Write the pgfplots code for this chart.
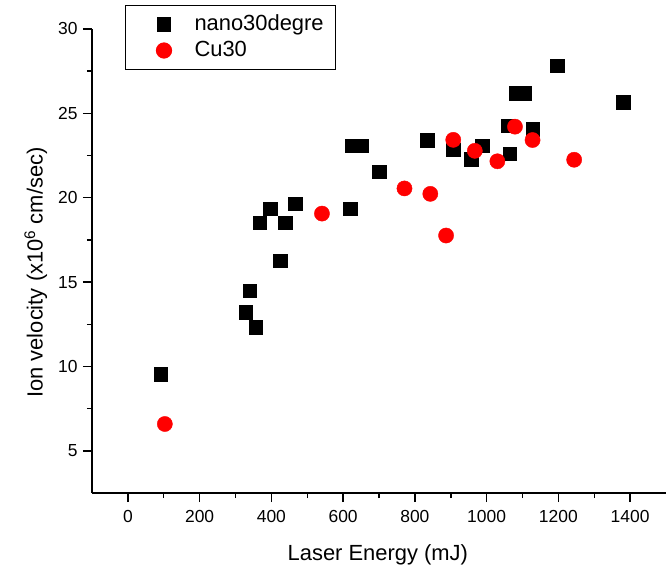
\documentclass[border=0pt]{standalone}
\usepackage{pgfplots}
\pgfplotsset{compat=1.18}
\usepackage{fontspec}
\setmainfont{Liberation Sans}
\begin{document}
\begin{tikzpicture}
\begin{axis}[
  name=ax,
  scale only axis,
  width=574bp, height=464bp,
  xmin=-100, xmax=1500, ymin=2.5, ymax=30,
  axis lines=left,
  axis line style={-, line width=1.5bp},
  xtick={0,200,...,1400},
  ytick={5,10,...,30},
  minor x tick num=1,
  minor y tick num=1,
  tick align=outside,
  major tick length=9bp,
  minor tick length=5bp,
  every tick/.style={line width=1.5bp, black},
  /pgf/number format/assume math mode=true,
  /pgf/number format/1000 sep={},
  tick label style={font=\fontsize{17.5}{20}\selectfont},
  xticklabel style={yshift=-5bp},
  yticklabel style={xshift=-2bp},
  xlabel={Laser Energy (mJ)},
  ylabel={Ion velocity (x10\textsuperscript{6} cm/sec)},
  label style={font=\fontsize{22}{26}\selectfont},
  xlabel style={at={(axis description cs:0.498,-0.1444)}, anchor=base},
  ylabel style={at={(axis description cs:-0.0859,0.475)}, anchor=base},
  legend style={at={(axis description cs:0.0575,1.0517)}, anchor=north west,
    draw=black, line width=1bp, font=\fontsize{22}{26}\selectfont,
    inner xsep=12bp, inner ysep=9bp, row sep=6bp,
    nodes={inner sep=0bp, text height=16bp, text depth=4bp}},
  legend cell align=left,
  legend image code/.code={\path (-26bp,0bp) (30bp,0bp); \draw[#1] plot coordinates {(0bp,0bp)};},
]
\addplot[only marks, mark=square*, mark size=6.8bp, black, fill=black] coordinates {
(91,9.54) (328,13.21) (340,14.50) (356,12.33) (367,18.53) (396,19.34)
(424,16.26) (439,18.53) (467,19.64) (620,19.34) (624,23.08) (650,23.08)
(700,21.54) (835,23.42) (907,22.84) (957,22.27) (987,23.08) (1060,24.26)
(1064,22.62) (1083,26.18) (1104,26.18) (1128,24.07) (1196,27.82) (1380,25.67)
};
\addlegendentry{nano30degre}
\addplot[only marks, mark=*, mark size=7.6bp, draw=red, fill=red] coordinates {
(103,6.59) (541,19.06) (771,20.55) (843,20.23) (887,17.76) (907,23.43)
(967,22.78) (1030,22.16) (1079,24.21) (1128,23.42) (1244,22.25)
};
\addlegendentry{Cu30}
\end{axis}
\pgfresetboundingbox
\path[use as bounding box] ([xshift=-92bp,yshift=-73bp]ax.south west) rectangle ([yshift=29bp]ax.north east);
\end{tikzpicture}
\end{document}
